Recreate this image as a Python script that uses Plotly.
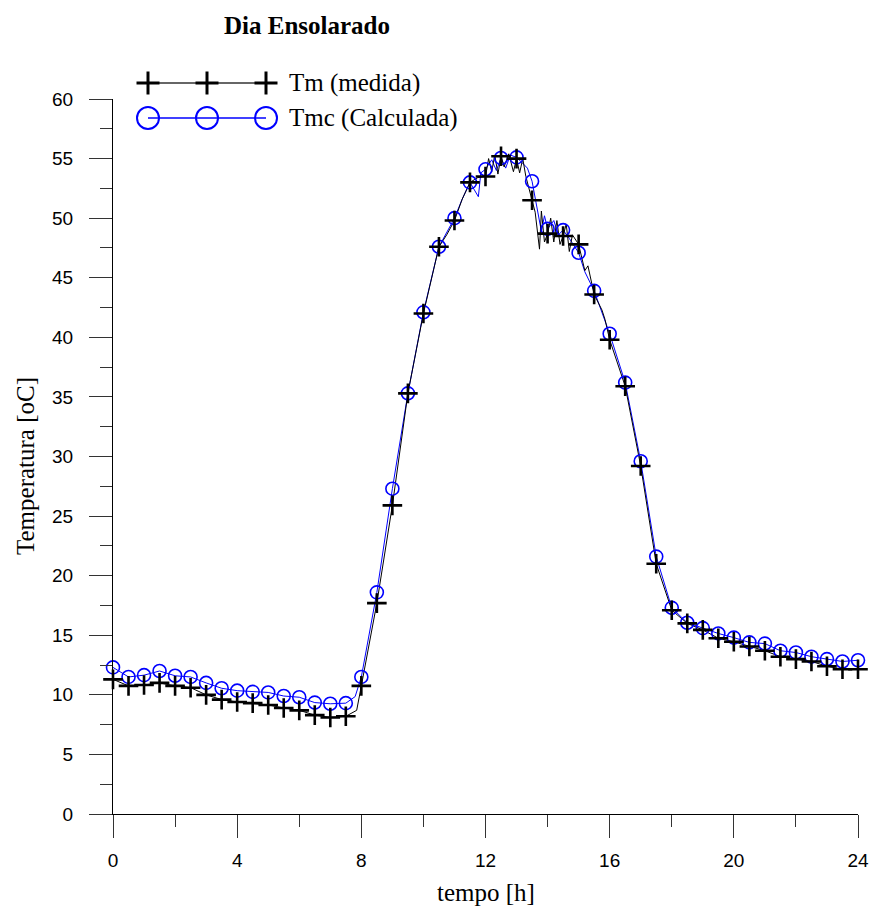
import plotly.graph_objects as go

# ---------------- data ----------------
marker_h = [i * 0.5 for i in range(49)]

tm_marker = [11.3, 10.75, 10.83, 11.0, 10.75, 10.6, 10.0, 9.6, 9.4, 9.3, 9.15, 8.9, 8.7, 8.3, 8.1, 8.2,
             10.75, 17.7, 25.9, 35.3, 42.0, 47.6, 49.8, 53.0, 53.5, 55.2, 55.0, 51.5, 48.7, 48.5, 47.8,
             43.6, 39.8, 35.9, 29.2, 21.0, 17.1, 16.0, 15.45, 14.75, 14.45, 14.05, 13.7, 13.2, 13.0,
             12.8, 12.4, 12.15, 12.15]

tmc_marker = [12.3, 11.5, 11.65, 12.0, 11.6, 11.5, 11.0, 10.55, 10.35, 10.25, 10.2, 9.9, 9.8, 9.35, 9.25,
              9.3, 11.5, 18.6, 27.3, 35.3, 42.1, 47.6, 50.0, 53.0, 54.1, 55.05, 55.1, 53.1, 49.1, 49.0,
              47.1, 43.9, 40.3, 36.2, 29.6, 21.6, 17.3, 16.05, 15.6, 15.15, 14.8, 14.4, 14.3, 13.7, 13.55,
              13.2, 13.0, 12.8, 12.9]

tm_line_h = [0, 0.5, 1, 1.5, 2, 2.5, 3, 3.5, 4, 4.5, 5, 5.5, 6, 6.5, 7, 7.5, 7.85, 8, 8.5, 9, 9.5, 10,
             10.5, 10.75, 11, 11.25, 11.5, 11.75, 12.0, 12.1, 12.2, 12.3, 12.4, 12.5, 12.6, 12.75, 12.9,
             13.0, 13.1, 13.2, 13.3, 13.5, 13.6, 13.74, 13.8, 13.9, 14.0, 14.1, 14.2, 14.3, 14.4, 14.5,
             14.6, 14.7, 14.8, 15.0, 15.2, 15.3, 15.5, 15.75, 15.85, 16, 16.5, 17, 17.5, 18, 18.5, 19,
             19.5, 20, 20.5, 21, 21.5, 22, 22.5, 23, 23.5, 24]
tm_line_T = [11.3, 10.75, 10.83, 11.0, 10.75, 10.6, 10.0, 9.6, 9.4, 9.3, 9.15, 8.9, 8.7, 8.3, 8.1, 8.2, 8.7,
             10.75, 17.7, 25.9, 35.3, 42.0, 47.6, 48.6, 49.8, 51.6, 53.0, 53.4, 53.5, 55.0, 53.9, 55.3,
             53.7, 55.2, 54.3, 55.4, 53.9, 55.0, 53.8, 55.0, 53.5, 51.5, 50.5, 47.4, 50.6, 48.0, 48.7,
             50.0, 48.0, 49.8, 47.8, 48.5, 49.5, 47.2, 48.6, 47.8, 45.6, 46.0, 43.6, 42.3, 41.5, 39.8,
             35.9, 29.2, 21.0, 17.1, 16.0, 15.45, 14.75, 14.45, 14.05, 13.7, 13.2, 13.0, 12.8, 12.4,
             12.15, 12.15]

tmc_line_h = [0, 0.5, 1, 1.5, 2, 2.5, 3, 3.5, 4, 4.5, 5, 5.5, 6, 6.5, 7, 7.5, 7.8, 8, 8.5, 9, 9.5, 10,
              10.5, 11.0, 11.25, 11.5, 11.77, 11.85, 12.0, 12.2, 12.35, 12.5, 12.65, 12.8, 13.0, 13.2,
              13.35, 13.5, 13.7, 13.8, 13.9, 14.0, 14.2, 14.35, 14.5, 14.7, 15.0, 15.2, 15.5, 16, 16.5,
              17, 17.5, 18, 18.5, 19, 19.5, 20, 20.5, 21, 21.5, 22, 22.5, 23, 23.5, 24]
tmc_line_T = [12.3, 11.5, 11.65, 12.0, 11.6, 11.5, 11.0, 10.55, 10.35, 10.25, 10.2, 9.9, 9.8, 9.35, 9.25,
              9.3, 9.85, 11.5, 18.6, 27.3, 35.3, 42.1, 47.6, 50.0, 51.6, 53.0, 51.8, 53.8, 54.1, 54.9,
              54.0, 55.05, 54.2, 55.3, 55.1, 54.6, 54.2, 53.1, 50.5, 48.9, 50.2, 49.1, 49.8, 48.6, 49.0,
              48.3, 47.1, 45.5, 43.9, 40.3, 36.2, 29.6, 21.6, 17.3, 16.05, 15.6, 15.15, 14.8, 14.4, 14.3,
              13.7, 13.55, 13.2, 13.0, 12.8, 12.9]

x_tick_vals = [0, 4, 8, 12, 16, 20, 24]
y_tick_vals = [0, 5, 10, 15, 20, 25, 30, 35, 40, 45, 50, 55, 60]

series_names = ["Tm (medida)", "Tmc (Calculada)"]
title_text = "<b>Dia Ensolarado</b>"
x_title = "tempo [h]"
y_title = "Temperatura [oC]"

# ---------------- layout constants (pixels, page coordinates) ----------------
W, H = 871, 909
PLOT_L, PLOT_R, PLOT_T, PLOT_B = 113, 858, 99, 814   # plot area in the page
ML, MT = PLOT_L, PLOT_T
MR, MB = W - PLOT_R, H - PLOT_B
PW, PH = PLOT_R - PLOT_L, PLOT_B - PLOT_T

def px_x(p):
    return (p - PLOT_L) / PW

def px_y(p):
    return (PLOT_B - p) / PH

BLUE = "#0000ff"
SERIF = "Liberation Serif, Times New Roman, serif"
SANS = "Liberation Sans, Arial, sans-serif"

fig = go.Figure()

fig.add_trace(go.Scatter(x=tmc_line_h, y=tmc_line_T, mode="lines",
                         line=dict(color=BLUE, width=1), showlegend=False, hoverinfo="skip"))
fig.add_trace(go.Scatter(x=tm_line_h, y=tm_line_T, mode="lines",
                         line=dict(color="black", width=1), showlegend=False, hoverinfo="skip"))
fig.add_trace(go.Scatter(x=marker_h, y=tmc_marker, mode="markers", name=series_names[1],
                         marker=dict(symbol="circle-open", size=13, color=BLUE,
                                     line=dict(color=BLUE, width=1.6)),
                         showlegend=False, cliponaxis=False))
fig.add_trace(go.Scatter(x=marker_h, y=tm_marker, mode="markers", name=series_names[0],
                         marker=dict(symbol="cross-thin", size=14, color="black",
                                     line=dict(color="black", width=2.6)),
                         showlegend=False, cliponaxis=False))

# ---------------- custom legend (three symbols on a line) ----------------
shapes = []
annotations = []
leg_xs = [148, 207, 266]
rows = [(83, "black", "cross", series_names[0]), (118, BLUE, "circle", series_names[1])]
for ry, col, sym, label in rows:
    shapes.append(dict(type="line", xref="paper", yref="paper",
                       x0=px_x(leg_xs[0]), x1=px_x(leg_xs[-1]), y0=px_y(ry), y1=px_y(ry),
                       line=dict(color=col if sym == "circle" else "#333333",
                                 width=1.3 if sym == "circle" else 1.6)))
    for lx in leg_xs:
        if sym == "cross":
            shapes.append(dict(type="line", xref="paper", yref="paper", xsizemode="pixel",
                               xanchor=px_x(lx), x0=-11.5, x1=11.5, y0=px_y(ry), y1=px_y(ry),
                               line=dict(color="black", width=3)))
            shapes.append(dict(type="line", xref="paper", yref="paper", ysizemode="pixel",
                               yanchor=px_y(ry), y0=-11.5, y1=11.5, x0=px_x(lx), x1=px_x(lx),
                               line=dict(color="black", width=3)))
        else:
            shapes.append(dict(type="circle", xref="paper", yref="paper",
                               xsizemode="pixel", ysizemode="pixel",
                               xanchor=px_x(lx), yanchor=px_y(ry),
                               x0=-11, x1=11, y0=-11, y1=11,
                               line=dict(color=BLUE, width=2), fillcolor="rgba(0,0,0,0)"))
    annotations.append(dict(text=label, xref="paper", yref="paper", x=px_x(287), y=px_y(ry),
                            xanchor="left", yanchor="middle", showarrow=False,
                            font=dict(family=SERIF, size=25, color="black")))

annotations.append(dict(text=x_title, xref="paper", yref="paper", x=0.5, y=px_y(892),
                        xanchor="center", yanchor="middle", showarrow=False,
                        font=dict(family=SERIF, size=25, color="black")))
annotations.append(dict(text=y_title, xref="paper", yref="paper", x=px_x(25), y=px_y(466),
                        xanchor="center", yanchor="middle", showarrow=False, textangle=-90,
                        font=dict(family=SERIF, size=25, color="black")))

fig.update_layout(
    width=W, height=H, autosize=False,
    margin=dict(l=ML, r=MR, t=MT, b=MB, pad=0),
    paper_bgcolor="white", plot_bgcolor="white",
    title=dict(text=title_text, x=307 / W, xanchor="center",
               y=1 - 25 / H, yanchor="middle",
               font=dict(family=SERIF, size=25, color="black")),
    shapes=shapes, annotations=annotations,
    showlegend=False,
)

axis_common = dict(showgrid=False, zeroline=False, showline=True, linecolor="black", linewidth=1,
                   ticks="outside", ticklen=23, tickwidth=1, tickcolor="#333333",
                   tickfont=dict(family=SANS, size=19, color="black"), automargin=False)

fig.update_xaxes(range=[0, 24], tickmode="array", tickvals=x_tick_vals, ticklabelstandoff=6,
                 minor=dict(dtick=2, ticklen=12, ticks="outside", tickcolor="#333333", tickwidth=1),
                 **axis_common)
fig.update_yaxes(range=[0, 60], tickmode="array", tickvals=y_tick_vals, ticklabelstandoff=12,
                 minor=dict(dtick=2.5, ticklen=12, ticks="outside", tickcolor="#333333", tickwidth=1),
                 **axis_common)

post = ("document.body.style.margin='0';document.body.style.padding='0';"
        "document.body.style.overflow='hidden';"
        "document.documentElement.style.overflow='hidden';")
fig.write_html("out.html", config={"responsive": False, "displayModeBar": False}, post_script=post)
